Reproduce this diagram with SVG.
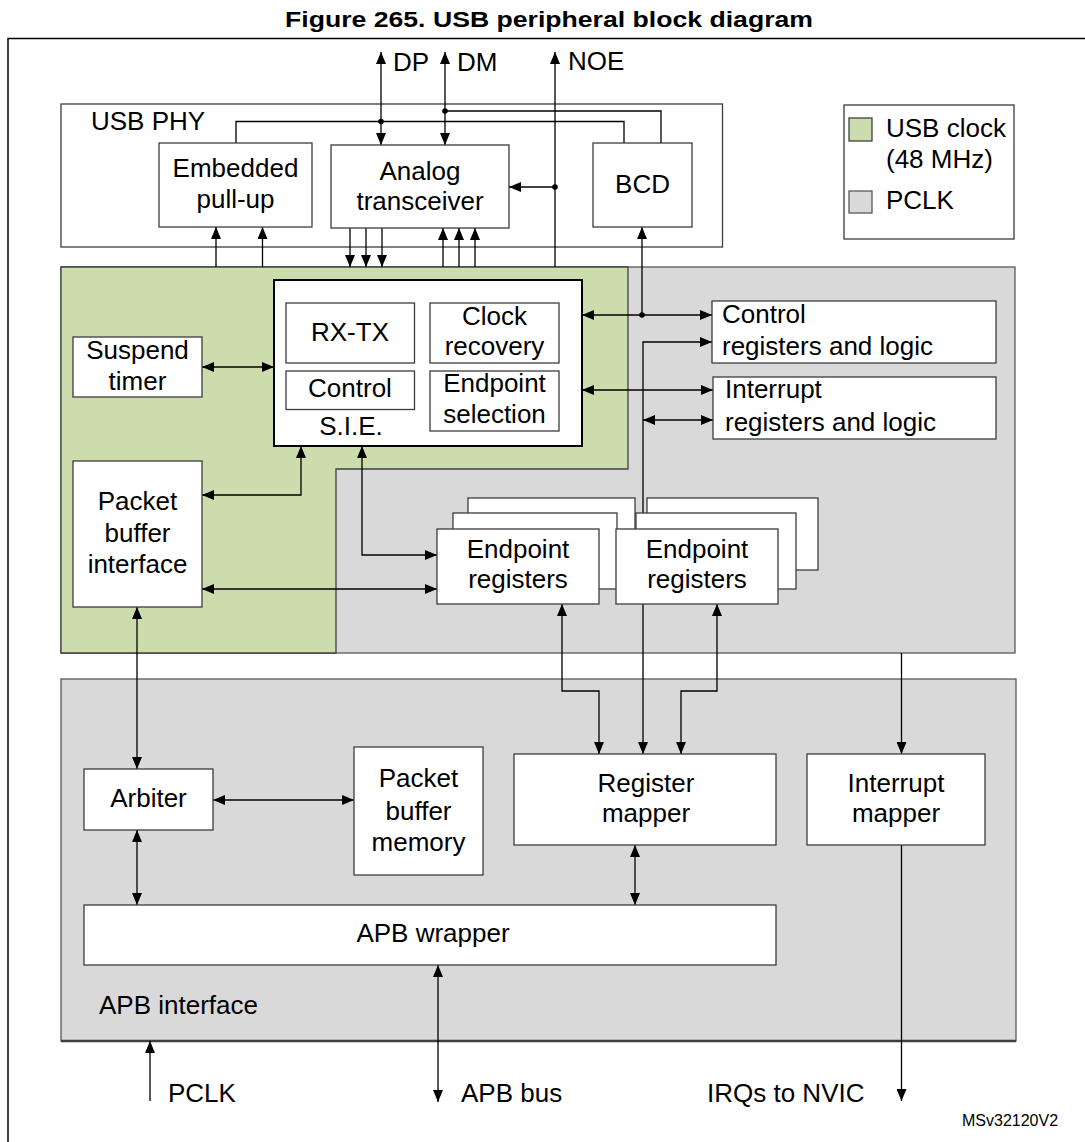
<svg xmlns="http://www.w3.org/2000/svg" width="1085" height="1142" viewBox="0 0 1085 1142">
<style>
text{font-family:"Liberation Sans",Arial,sans-serif;font-size:26px;fill:#000}
.t{font-size:22px;font-weight:bold}
.c{text-anchor:middle}
.sm{font-size:16px}
.box{fill:#fff;stroke:#3c3c3c;stroke-width:1.3}
.reg{fill:#d9d9d9;stroke:#595959;stroke-width:1.3}
.grn{fill:#cddcad;stroke:#404040;stroke-width:1.3}
.ln{fill:none;stroke:#000;stroke-width:1.3}
.a1{marker-end:url(#ah)}
.a2{marker-start:url(#ah);marker-end:url(#ah)}
.dot{fill:#000}
</style>
<defs>
<marker id="ah" markerUnits="userSpaceOnUse" markerWidth="12" markerHeight="10" refX="12" refY="5" orient="auto-start-reverse">
<path d="M0,0 L12,5 L0,10 Z" fill="#000"/>
</marker>
</defs>
<rect width="1085" height="1142" fill="#fff"/>
<text class="t" x="285" y="27" textLength="528" lengthAdjust="spacingAndGlyphs">Figure 265. USB peripheral block diagram</text>
<rect x="8" y="38.5" width="1090" height="1120" fill="none" stroke="#000" stroke-width="1.5"/>

<g id="usb-phy">
<rect class="box" x="61" y="104" width="661.5" height="143" stroke="#595959"/>
<text x="91" y="130">USB PHY</text>
</g>
<g id="legend">
<rect class="box" x="844" y="105" width="170" height="134"/>
<rect class="grn" x="849" y="118" width="23" height="23"/>
<rect class="reg" x="849" y="191" width="23" height="22"/>
<text x="886" y="137">USB clock</text>
<text x="886" y="168">(48 MHz)</text>
<text x="886" y="209">PCLK</text>
</g>
<g id="pclk-region">
<rect class="reg" x="61" y="267" width="954" height="386"/>
</g>
<g id="usb-clock-region">
<path class="grn" d="M61,267 L628,267 L628,469 L336,469 L336,653 L61,653 Z"/>
</g>
<g id="apb-interface">
<rect class="reg" x="61" y="679" width="955" height="362"/>
<line x1="61" y1="1041" x2="1016" y2="1041" stroke="#404040" stroke-width="2.5"/>
<text x="99" y="1014">APB interface</text>
</g>

<g id="connectors">
<line class="ln a2" x1="381" y1="52" x2="381" y2="145"/>
<line class="ln a2" x1="445" y1="52" x2="445" y2="145"/>
<line class="ln a1" x1="555" y1="267" x2="555" y2="52"/>
<line class="ln a1" x1="555" y1="187" x2="509" y2="187"/>
<circle class="dot" cx="555" cy="187" r="2.8"/>
<polyline class="ln" points="236,143 236,121.5 624,121.5 624,143"/>
<circle class="dot" cx="381" cy="121.5" r="2.8"/>
<polyline class="ln" points="445,111 661,111 661,143"/>
<circle class="dot" cx="445" cy="111" r="2.8"/>
<line class="ln a1" x1="216" y1="267" x2="216" y2="227"/>
<line class="ln a1" x1="262.5" y1="267" x2="262.5" y2="227"/>
<line class="ln a1" x1="350" y1="228" x2="350" y2="267"/>
<line class="ln a1" x1="366" y1="228" x2="366" y2="267"/>
<line class="ln a1" x1="382" y1="228" x2="382" y2="267"/>
<line class="ln a1" x1="443" y1="267" x2="443" y2="228"/>
<line class="ln a1" x1="459" y1="267" x2="459" y2="228"/>
<line class="ln a1" x1="475" y1="267" x2="475" y2="228"/>
<line class="ln a1" x1="642" y1="315" x2="642" y2="227"/>
<line class="ln a2" x1="582" y1="315" x2="712" y2="315"/>
<circle class="dot" cx="642" cy="315" r="2.8"/>
<polyline class="ln a2" points="712,342 643,342 643,754"/>
<line class="ln a2" x1="582" y1="390" x2="713" y2="390"/>
<line class="ln a2" x1="643" y1="420" x2="713" y2="420"/>
<line class="ln a2" x1="202" y1="367" x2="274" y2="367"/>
<polyline class="ln a2" points="202,495 301,495 301,446"/>
<polyline class="ln a2" points="362,446 362,555 437,555"/>
<line class="ln a2" x1="202" y1="589" x2="437" y2="589"/>
<line class="ln a2" x1="137" y1="607" x2="137" y2="769"/>
<polyline class="ln a2" points="562,604 562,691 599,691 599,754"/>
<polyline class="ln a2" points="717,604 717,691 681,691 681,754"/>
<line class="ln a1" x1="901.5" y1="653" x2="901.5" y2="754"/>
<line class="ln a2" x1="213" y1="800" x2="354" y2="800"/>
<line class="ln a2" x1="137" y1="830" x2="137" y2="905"/>
<line class="ln a2" x1="635" y1="845" x2="635" y2="905"/>
<line class="ln a2" x1="438" y1="965" x2="438" y2="1102"/>
<line class="ln a1" x1="150" y1="1101" x2="150" y2="1041"/>
<line class="ln a1" x1="901.5" y1="845" x2="901.5" y2="1101"/>
</g>

<text x="393" y="71">DP</text>
<text x="457" y="71">DM</text>
<text x="568" y="70">NOE</text>

<g id="embedded-pullup">
<rect class="box" x="159" y="143" width="153" height="84"/>
<text class="c" x="235.5" y="177">Embedded</text>
<text class="c" x="235.5" y="208">pull-up</text>
</g>
<g id="analog-transceiver">
<rect class="box" x="331" y="145" width="178" height="83"/>
<text class="c" x="420" y="180">Analog</text>
<text class="c" x="420" y="210">transceiver</text>
</g>
<g id="bcd">
<rect class="box" x="593" y="143" width="99" height="84"/>
<text class="c" x="642.5" y="193">BCD</text>
</g>
<g id="sie">
<rect x="274" y="280" width="308" height="166" fill="#fff" stroke="#000" stroke-width="2"/>
<text class="c" x="351" y="435">S.I.E.</text>
</g>
<g id="rx-tx">
<rect class="box" x="286" y="303" width="128.5" height="60"/>
<text class="c" x="350" y="341">RX-TX</text>
</g>
<g id="clock-recovery">
<rect class="box" x="430" y="303" width="129" height="60"/>
<text class="c" x="494.5" y="325">Clock</text>
<text class="c" x="494.5" y="355">recovery</text>
</g>
<g id="sie-control">
<rect class="box" x="286" y="371" width="128.5" height="38.5"/>
<text class="c" x="350" y="397">Control</text>
</g>
<g id="endpoint-selection">
<rect class="box" x="430" y="371" width="129" height="60"/>
<text class="c" x="494.5" y="392">Endpoint</text>
<text class="c" x="494.5" y="423">selection</text>
</g>
<g id="suspend-timer">
<rect class="box" x="73" y="337" width="129" height="60"/>
<text class="c" x="137.5" y="359">Suspend</text>
<text class="c" x="137.5" y="390">timer</text>
</g>
<g id="packet-buffer-interface">
<rect class="box" x="73" y="461" width="129" height="146"/>
<text class="c" x="137.5" y="510">Packet</text>
<text class="c" x="137.5" y="542">buffer</text>
<text class="c" x="137.5" y="573">interface</text>
</g>
<g id="control-registers">
<rect class="box" x="712" y="301" width="284" height="62"/>
<text x="722" y="323">Control</text>
<text x="722" y="355">registers and logic</text>
</g>
<g id="interrupt-registers">
<rect class="box" x="713" y="377" width="283" height="62"/>
<text x="725" y="398">Interrupt</text>
<text x="725" y="431">registers and logic</text>
</g>
<g id="endpoint-registers-1">
<rect class="box" x="468" y="498" width="167" height="75"/>
<rect class="box" x="453" y="513" width="164" height="76"/>
<rect class="box" x="437" y="529" width="162" height="75"/>
<text class="c" x="518" y="558">Endpoint</text>
<text class="c" x="518" y="588">registers</text>
</g>
<g id="endpoint-registers-2">
<rect class="box" x="647" y="498" width="171" height="72"/>
<rect class="box" x="636" y="513" width="160" height="76"/>
<rect class="box" x="616" y="529" width="162" height="75"/>
<text class="c" x="697" y="558">Endpoint</text>
<text class="c" x="697" y="588">registers</text>
</g>
<g id="arbiter">
<rect class="box" x="84" y="769" width="129" height="61"/>
<text class="c" x="148.5" y="807">Arbiter</text>
</g>
<g id="packet-buffer-memory">
<rect class="box" x="354" y="747" width="129" height="128"/>
<text class="c" x="418.5" y="787">Packet</text>
<text class="c" x="418.5" y="820">buffer</text>
<text class="c" x="418.5" y="851">memory</text>
</g>
<g id="register-mapper">
<rect class="box" x="514" y="754" width="262" height="91"/>
<text class="c" x="646" y="792">Register</text>
<text class="c" x="646" y="822">mapper</text>
</g>
<g id="interrupt-mapper">
<rect class="box" x="807" y="754" width="178" height="91"/>
<text class="c" x="896" y="792">Interrupt</text>
<text class="c" x="896" y="822">mapper</text>
</g>
<g id="apb-wrapper">
<rect class="box" x="84" y="905" width="692" height="60"/>
<text class="c" x="433" y="942">APB wrapper</text>
</g>

<text x="168" y="1102">PCLK</text>
<text x="461" y="1102">APB bus</text>
<text x="707" y="1102">IRQs to NVIC</text>
<text class="sm" x="962" y="1126">MSv32120V2</text>
</svg>
